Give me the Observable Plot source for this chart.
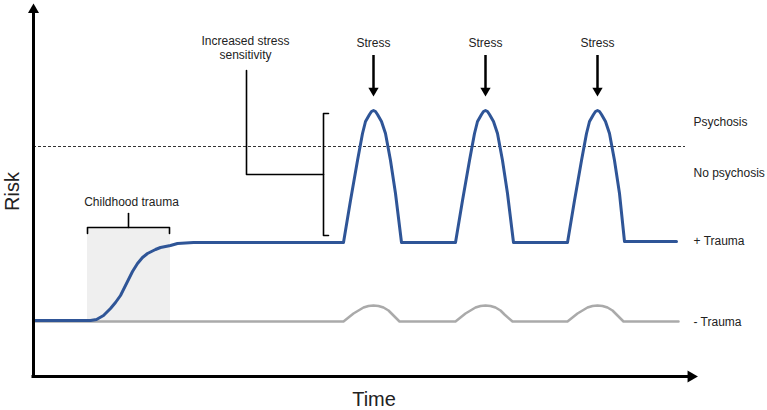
<!DOCTYPE html>
<html>
<head>
<meta charset="utf-8">
<script src="https://cdn.jsdelivr.net/npm/d3@7"></script>
<script src="https://cdn.jsdelivr.net/npm/@observablehq/plot@0.6"></script>
<style>
  html, body { margin: 0; padding: 0; background: #fff; }
  #chart svg { display: block; }
</style>
</head>
<body>
<div id="chart"></div>
<script>
// Time / risk in arbitrary units
const traumaLine = [
  [0,56],[57,56],[63,57],[70,61],[77,68],[82,74],[87,81],[94,95],[99,105],[104,113],[109,119],[114,123],[122,127],[127,129],[137,131],[144,133],[160,134],[310,134],
  [317,176],[324,216],[329,243],[332,255],[336,262],[338,265],[340,266],[342,265],[344,262],[348,255],[352,243],[357,216],[362,183],[368,134],
  [422,134],[429,176],[436,216],[441,243],[444,255],[448,262],[450,265],[452,266],[454,265],[456,262],[460,255],[464,243],[469,216],[474,183],[480,134],
  [534,134],[541,176],[548,216],[553,243],[556,255],[560,262],[562,265],[564,266],[566,265],[568,262],[572,255],[576,243],[581,216],[586,183],[591,135],
  [643,135]
];
const noTraumaLine = [
  [0,55],[310,55],[315,59],[320,63],[325,66],[330,69],[335,70.5],[340,71],[345,70.5],[350,69],[355,66],[359,62],[366,55],
  [422,55],[427,59],[432,63],[437,66],[442,69],[447,70.5],[452,71],[457,70.5],[462,69],[467,66],[471,62],[479,55],
  [534,55],[539,59],[544,63],[549,66],[554,69],[559,70.5],[564,71],[569,70.5],[574,69],[579,66],[583,62],[590,55],
  [645,55]
];
const stressTimes = [340, 452, 564];
const stressLabels = ["Stress", "Stress", "Stress"];
const psychosisThreshold = 230;
const traumaWindow = [{start: 54, end: 137, low: 55, high: 149}];
const rightLabels = ["Psychosis", "No psychosis", "+ Trauma", "- Trauma"];
const rightLabelRisk = [254, 203, 135, 54];
const childhoodLabel = "Childhood trauma";
const sensitivityLabel = ["Increased stress", "sensitivity"];

const ink = "#000";
const textColor = "#222";
const blue = "#2f5597";
const grey = "#aaaaaa";

// bracket shapes derived from the named annotation values
const tw = traumaWindow[0];
const childBracket = [[tw.start, tw.high - 6], [tw.start, tw.high], [tw.end - 1, tw.high], [tw.end - 1, tw.high - 6]];
const childStem = [[95, tw.high], [95, 163]];
const sensBracket = [[295, 263], [290, 263], [290, 141], [295, 141]];
const sensConnector = [[290, 202], [213, 202], [213, 306]];

const plot = Plot.plot({
  width: 767,
  height: 410,
  marginTop: 0, marginRight: 0, marginBottom: 0, marginLeft: 0,
  x: {domain: [-33, 734], axis: null},
  y: {domain: [-34, 376], axis: null},
  style: {fontFamily: "'Liberation Sans', Arial, sans-serif", background: "#fff", overflow: "visible"},
  marks: [
    Plot.rect(traumaWindow, {x1: "start", x2: "end", y1: "low", y2: "high", fill: "#efefef"}),
    Plot.ruleY([psychosisThreshold], {x1: 0, x2: 652, stroke: "#333", strokeWidth: 1, strokeDasharray: "3,2"}),
    Plot.line(noTraumaLine, {x: d => d[0], y: d => d[1], stroke: grey, strokeWidth: 2.5}),
    Plot.line(traumaLine, {x: d => d[0], y: d => d[1], stroke: blue, strokeWidth: 3, strokeLinejoin: "round"}),
    // brackets
    Plot.line(childBracket, {x: d => d[0], y: d => d[1], stroke: ink, strokeWidth: 1.6}),
    Plot.line(childStem, {x: d => d[0], y: d => d[1], stroke: ink, strokeWidth: 1.6}),
    Plot.line(sensBracket, {x: d => d[0], y: d => d[1], stroke: ink, strokeWidth: 1.6}),
    Plot.line(sensConnector, {x: d => d[0], y: d => d[1], stroke: ink, strokeWidth: 1.6}),
    // stress arrows
    Plot.ruleX(stressTimes, {y1: 321, y2: 288, stroke: ink, strokeWidth: 2.5}),
    Plot.dot(stressTimes, {x: d => d, y: 285.8, symbol: "triangle", rotate: 180, r: 3.8, fill: ink, stroke: null}),
    Plot.text(stressLabels, {x: (d, i) => stressTimes[i], y: 333, text: d => d, fontSize: 12, fill: textColor}),
    // axes
    Plot.ruleX([0], {y1: 0, y2: 365, stroke: ink, strokeWidth: 3}),
    Plot.ruleY([0], {x1: -1.5, x2: 655, stroke: ink, strokeWidth: 3}),
    Plot.dot([0], {x: 0, y: 366.6, symbol: "triangle", r: 4.1, fill: ink, stroke: null}),
    Plot.dot([0], {x: 657.5, y: 0, symbol: "triangle", rotate: 90, r: 4.45, fill: ink, stroke: null}),
    Plot.text(["Risk"], {x: -21, y: 185, text: d => d, rotate: -90, fontSize: 20, fill: textColor}),
    Plot.text(["Time"], {x: 340.5, y: -23, text: d => d, fontSize: 20, fill: textColor}),
    // labels
    Plot.text(rightLabels, {x: 660, y: (d, i) => rightLabelRisk[i], text: d => d, textAnchor: "start", fontSize: 12, fill: textColor}),
    Plot.text([childhoodLabel], {x: 98, y: 174, text: d => d, fontSize: 12, fill: textColor}),
    Plot.text(sensitivityLabel, {x: 212, y: (d, i) => [335, 321][i], text: d => d, fontSize: 12, fill: textColor})
  ]
});
document.getElementById("chart").appendChild(plot);
</script>
</body>
</html>
